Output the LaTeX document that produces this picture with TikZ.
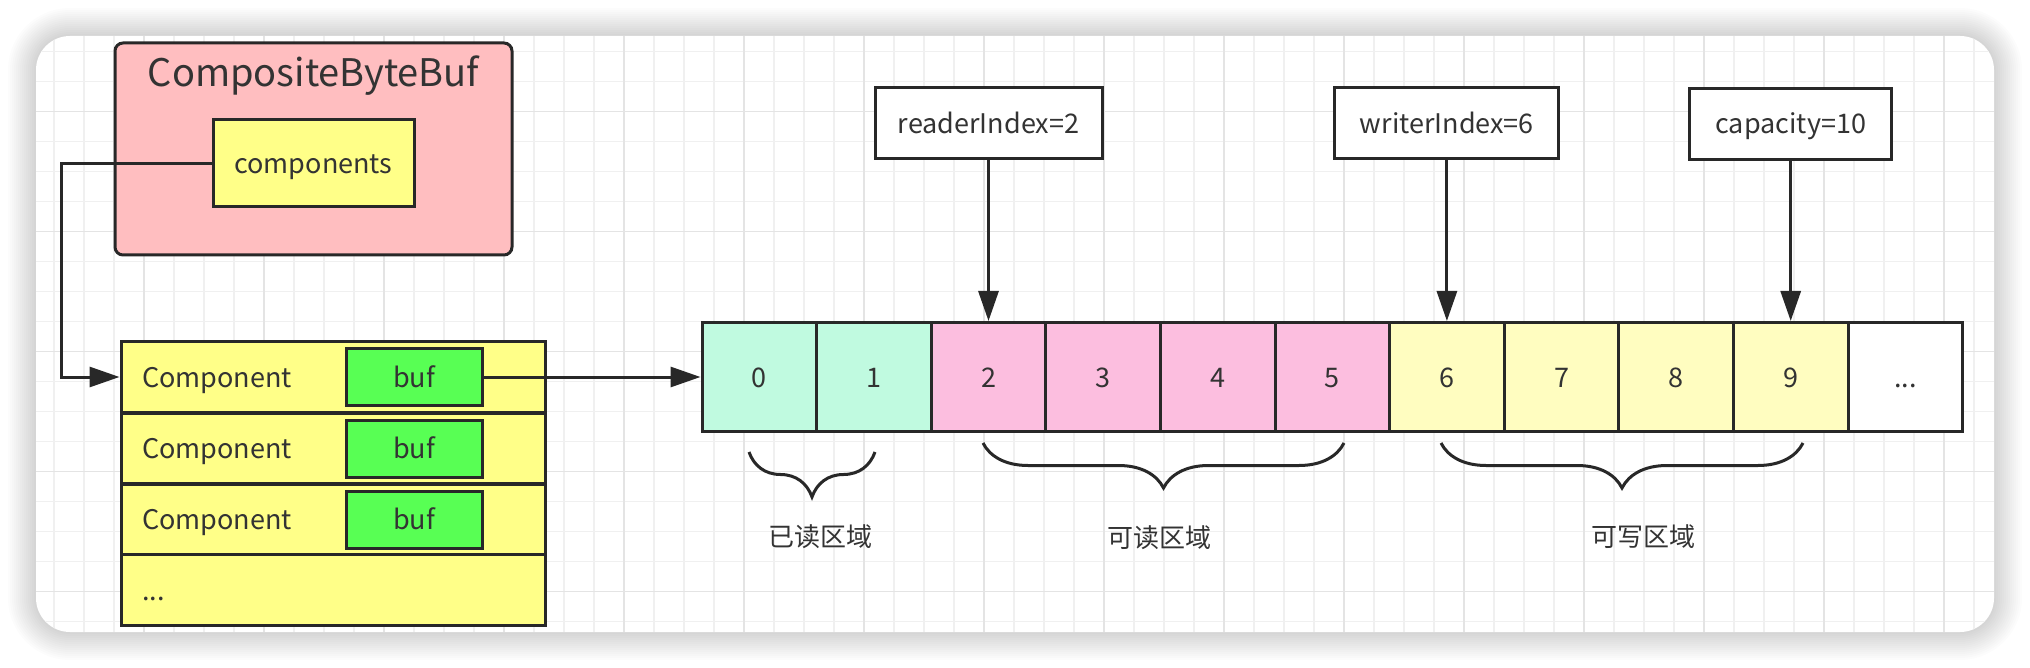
\documentclass[tikz,border=0pt]{standalone}
\usepackage{fontspec}
\setmainfont{Noto Sans CJK SC}
\usetikzlibrary{arrows.meta}
\usetikzlibrary{decorations.pathreplacing}
\tikzset{>={Triangle[length=30pt,width=20pt]}}
\definecolor{edge}{RGB}{40,40,40}
\definecolor{ink}{RGB}{51,51,51}
\definecolor{pinkbox}{RGB}{255,190,192}
\definecolor{yellowbox}{RGB}{255,255,136}
\definecolor{greenbox}{RGB}{88,255,84}
\definecolor{readcell}{RGB}{192,250,224}
\definecolor{usecell}{RGB}{252,190,223}
\definecolor{freecell}{RGB}{255,253,192}
\definecolor{gridminor}{RGB}{240,240,240}
\definecolor{gridmajor}{RGB}{228,228,228}

\begin{document}
\begin{tikzpicture}[x=1pt,y=-1pt,line width=3pt,
  every node/.style={text=ink,font=\fontsize{27}{32}\selectfont},
  main/.style={draw=edge,line width=3pt,inner sep=0pt,text height=20pt,text depth=0pt},
  row/.style={main,fill=yellowbox,minimum width=424.5pt,minimum height=70.5pt,text width=382pt,align=left},
  bufbox/.style={main,fill=greenbox,minimum width=136pt,minimum height=57pt},
  cell/.style={main,minimum width=114.6pt,minimum height=109pt},
  tag/.style={main,fill=white,minimum height=71pt},
  brace/.style={draw=edge,decorate,decoration={brace,mirror,amplitude=45pt}},
  zone/.style={font=\fontsize{26}{30}\selectfont}]
\useasboundingbox (0,0) rectangle (2030,668);
% card with soft shadow
\foreach \i in {1,...,14}
    \fill[black,opacity=0.01,rounded corners={34+2*\i}] ({36-2*\i},{36-2*\i}) rectangle ({1994+2*\i},{632+2*\i});
\fill[white,rounded corners=34] (36,36) rectangle (1994,632);
\begin{scope}
    \clip[rounded corners=34] (36,36) rectangle (1994,632);
    \foreach \x in {24,54,...,2004} \draw[gridminor,line width=1.2pt] (\x,36) -- (\x,632);
    \foreach \y in {21.7,51.7,...,651.7} \draw[gridminor,line width=1.2pt] (36,\y) -- (1994,\y);
    \foreach \x in {24,144,...,2004} \draw[gridmajor,line width=1.5pt] (\x,36) -- (\x,632);
    \foreach \y in {111.7,231.7,...,591.7} \draw[gridmajor,line width=1.5pt] (36,\y) -- (1994,\y);
\end{scope}

% CompositeByteBuf
\node[main,fill=pinkbox,rounded corners=8pt,minimum width=397pt,minimum height=212pt] (cbb) at (313.5,149) {};
\node[font=\fontsize{38}{44}\selectfont] (title) at (313.5,76) {CompositeByteBuf};
\node[main,fill=yellowbox,minimum width=201pt,minimum height=87pt] (comps) at (313.5,163.5) {components};

% component list
\node[row] (r1) at (333.25,377) {Component};
\node[row] (r2) at (333.25,448.5) {Component};
\node[row] (r3) at (333.25,519.5) {Component};
\node[row] (r4) at (333.25,590) {...};
\node[bufbox] (b1) at (414,377) {buf};
\node[bufbox] (b2) at (414,448.5) {buf};
\node[bufbox] (b3) at (414,519.5) {buf};
\coordinate (k) at (61,163.5);
\draw[draw=edge,->] (comps.west) -- (k) |- (r1.west);

% byte array
\node[cell,fill=readcell] (c0) at (759.3,377) {0};
\node[cell,fill=readcell] (c1) at (873.9,377) {1};
\node[cell,fill=usecell] (c2) at (988.5,377) {2};
\node[cell,fill=usecell] (c3) at (1103.1,377) {3};
\node[cell,fill=usecell] (c4) at (1217.7,377) {4};
\node[cell,fill=usecell] (c5) at (1332.3,377) {5};
\node[cell,fill=freecell] (c6) at (1446.9,377) {6};
\node[cell,fill=freecell] (c7) at (1561.5,377) {7};
\node[cell,fill=freecell] (c8) at (1676.1,377) {8};
\node[cell,fill=freecell] (c9) at (1790.7,377) {9};
\node[cell,fill=white] (c10) at (1905.3,377) {...};
\draw[draw=edge,->] (b1.east) -- (c0.west);

% indexes
\node[tag,minimum width=227pt] (ri) at (988.5,123.5) {readerIndex=2};
\node[tag,minimum width=224pt] (wi) at (1446.9,123.5) {writerIndex=6};
\node[tag,minimum width=202pt] (cap) at (1790.7,124) {capacity=10};
\draw[draw=edge,->] (ri) -- (c2);
\draw[draw=edge,->] (wi) -- (c6);
\draw[draw=edge,->] (cap) -- (c9);

% regions
\draw[brace] (749,452) -- (875,452);
\draw[brace] (983,443) -- (1344,443);
\draw[brace] (1441,443) -- (1803,443);
\node[zone] (z1) at (820,537) {已读区域};
\node[zone] (z2) at (1159,538) {可读区域};
\node[zone] (z3) at (1643,537) {可写区域};
\end{tikzpicture}
\end{document}
